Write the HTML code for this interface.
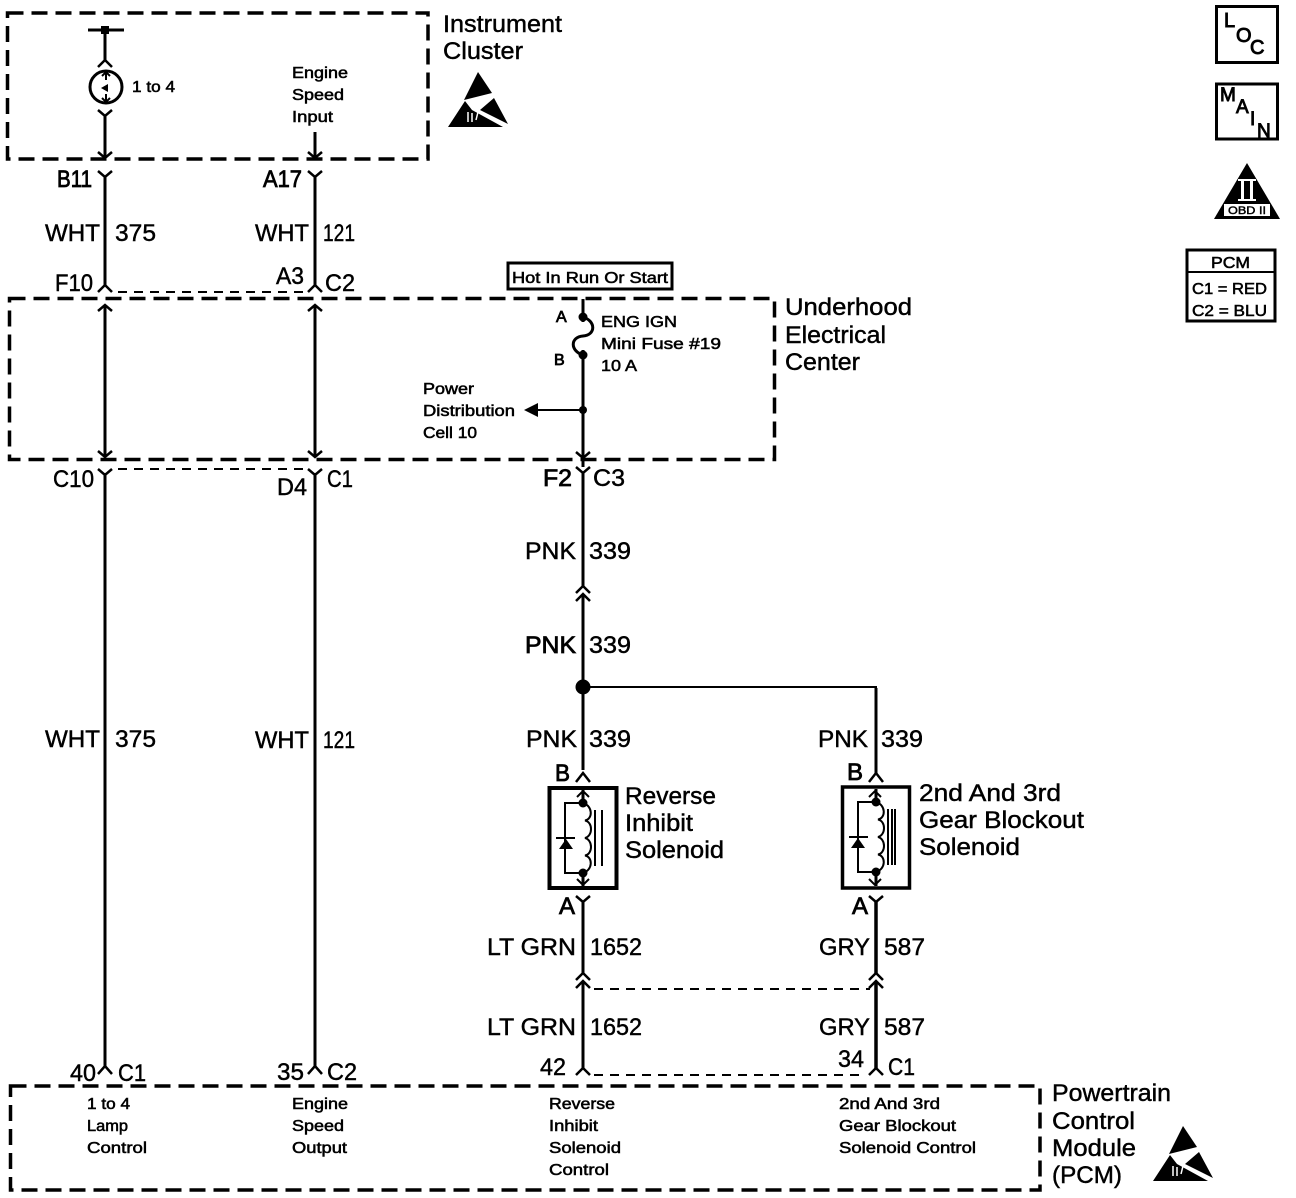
<!DOCTYPE html>
<html><head><meta charset="utf-8"><style>
html,body{margin:0;padding:0;background:#fff}
svg{display:block}
text{font-family:"Liberation Sans",sans-serif;fill:#000;stroke:#000;stroke-width:.45}
.b{font-size:24px}
.s{font-size:16px;stroke-width:.55}
.l{font-size:20px;stroke-width:.9}
.w{fill:none;stroke:#000;stroke-width:3}
.t{fill:none;stroke:#000;stroke-width:2}
.d{fill:none;stroke:#000;stroke-width:3.5;stroke-dasharray:16 8}
.n{fill:none;stroke:#000;stroke-width:2;stroke-dasharray:9 7}
</style></head><body>
<svg xmlns="http://www.w3.org/2000/svg" width="1296" height="1198" viewBox="0 0 1296 1198">
<rect width="1296" height="1198" fill="#fff"/>

<!-- dashed boxes -->
<rect class="d" x="7.5" y="13" width="420.5" height="146"/>
<rect class="d" x="9.5" y="298.5" width="765" height="161"/>
<rect class="d" x="10.5" y="1086" width="1029.5" height="104"/>

<!-- thin dashed shields -->
<path class="n" d="M118 292H305M118 469H306M594 989H870M594 1075H866"/>

<!-- wires -->
<path class="w" d="M105 30V60M105 115V158M105 177V285M105 305V457M105 473V1066"/>
<path class="w" d="M88 30H124"/>
<rect x="101" y="26" width="8" height="8" fill="#000"/>
<path class="w" d="M315 132V159M315 177V285M315 305V457M315 473V1066"/>
<path class="w" d="M583 299V467M583 473V586M583 594V770M583 902V973M583 982V1068"/>
<path class="w" d="M876 688V773"/>
<path class="w" d="M876 902V973M876 982V1068" style="stroke-width:3.5"/>
<path class="t" d="M583 687H877"/>
<path class="t" d="M583 410H534"/>
<polygon points="524,410 538,403 538,417" fill="#000"/>

<!-- Y connectors -->
<path class="w" style="stroke-width:2.5" d="M98 171L105 177L112 171M308 171L315 177L322 171M98 469L105 475L112 469M308 469L315 475L322 469M576 467L583 473L590 467"/>
<path class="w" style="stroke-width:2.5" d="M98 110L105 116L112 110M576 896L583 902L590 896M869 896L876 902L883 896"/>
<!-- lambda connectors -->
<path class="w" style="stroke-width:2.5" d="M98 292L105 285L112 292M308 292L315 285L322 292M98 1074L105 1066L112 1074M308 1074L315 1066L322 1074M576 1075L583 1068L590 1075M869 1075L876 1068L883 1075"/>
<path class="w" style="stroke-width:2.5" d="M98 67L105 60L112 67M576 782L583 773L590 782M869 782L876 773L883 782"/>
<!-- double chevrons -->
<path class="w" style="stroke-width:2.5" d="M576 593L583 586L590 593M576 601L583 594L590 601M576 980L583 973L590 980M576 988L583 981L590 988M869 980L876 973L883 980M869 988L876 981L883 988"/>
<!-- inside arrows -->
<path class="w" style="stroke-width:2.5" d="M98 152L105 158L112 152M308 152L315 158L322 152M98 451L105 457L112 451M308 451L315 457L322 451M576 452L583 458L590 452M98 311L105 305L112 311M308 311L315 305L322 311"/>

<!-- bulb -->
<circle class="w" cx="106" cy="87" r="16"/>
<path class="t" d="M106 73V80M106 94V101M102 76L106 72L110 76M102 98L106 102L110 98"/>
<path d="M101 88L108 84V92Z" fill="#000"/>

<!-- fuse -->
<circle cx="583" cy="317" r="4.5" fill="#000"/>
<circle cx="583" cy="355" r="4.5" fill="#000"/>
<circle cx="583" cy="410" r="4" fill="#000"/>
<path fill="none" stroke="#fff" stroke-width="4" d="M583 322V350"/>
<path class="w" d="M583 317C596 321 596 335 583 336C570 337 570 351 583 355"/>

<!-- junction -->
<circle cx="583" cy="687" r="7.5" fill="#000"/>

<!-- Hot box -->
<rect x="508" y="263" width="164" height="26" fill="#fff" stroke="#000" stroke-width="3"/>

<!-- Solenoid 1 -->
<rect x="549.5" y="788" width="67" height="100" fill="#fff" stroke="#000" stroke-width="4"/>
<path class="w" d="M583 790V803M583 873V886"/>
<path class="t" d="M577 797L583 791L589 797M577 879L583 885L589 879"/>
<circle cx="583" cy="803" r="4.5" fill="#000"/>
<circle cx="583" cy="873" r="4.5" fill="#000"/>
<path class="t" d="M583 803H565V873H583"/>
<path class="t" d="M556 838H575"/>
<polygon points="566,839 559,849 573,849" fill="#000"/>
<path class="t" d="M583 803C593 806 593 819 585 820.500C593 822 593 836 585 838C593 840 593 854 585 855.500C593 857 593 870 583 873"/>
<path class="t" d="M595 810V866M602 810V866"/>

<!-- Solenoid 2 -->
<rect x="842.5" y="787" width="67" height="101" fill="#fff" stroke="#000" stroke-width="3.5"/>
<path class="w" d="M876 789V802M876 872V886"/>
<path class="t" d="M869 797L875 791L881 797M869 879L875 885L881 879"/>
<circle cx="876" cy="802" r="4.5" fill="#000"/>
<circle cx="876" cy="872" r="4.5" fill="#000"/>
<path class="t" d="M876 802H858V872H876"/>
<path class="t" d="M849 837H868"/>
<polygon points="858,838 851,848 865,848" fill="#000"/>
<path class="t" d="M876 802C886 805 886 818 878 819.500C886 821 886 835 878 837C886 839 886 853 878 854.500C886 856 886 869 876 872"/>
<path class="t" d="M888 809V865M892 809V865M895 809V865"/>

<!-- ESD icons -->
<g fill="#000">
<polygon points="478,72 492,93 464,100"/>
<polygon points="448,127 465,101 472,110 503,127"/>
<polygon points="494,98 508,124 480,110"/>
<path d="M468 122V112M472 122V113M476 120L478 112" stroke="#fff" stroke-width="1.5"/>
</g>
<g fill="#000" transform="translate(705 1054)">
<polygon points="478,72 492,93 464,100"/>
<polygon points="448,127 465,101 472,110 503,127"/>
<polygon points="494,98 508,124 480,110"/>
<path d="M468 122V112M472 122V113M476 120L478 112" stroke="#fff" stroke-width="1.5"/>
</g>

<!-- Right side boxes -->
<rect x="1216.5" y="6.5" width="61" height="56" fill="#fff" stroke="#000" stroke-width="3"/>
<text class="l" x="1224" y="27">L</text><text class="l" x="1236" y="42">O</text><text class="l" x="1250" y="54">C</text>
<rect x="1216.5" y="84" width="61" height="55" fill="#fff" stroke="#000" stroke-width="3"/>
<text class="s" style="font-size:19px;stroke-width:.9" x="1220" y="101">M</text><text class="s" style="font-size:19px;stroke-width:.9" x="1236" y="113">A</text><text class="s" style="font-size:19px;stroke-width:.9" x="1250" y="125">I</text><text class="s" style="font-size:19px;stroke-width:.9" x="1257" y="137">N</text>
<polygon points="1247,163 1280,219 1214,219" fill="#000"/>
<rect x="1224" y="204" width="46" height="12" fill="#fff"/>
<text x="1228" y="214" style="font-size:11px" textLength="38" lengthAdjust="spacingAndGlyphs">OBD II</text>
<rect x="1241" y="181" width="3" height="18" fill="#fff"/><rect x="1250" y="181" width="3" height="18" fill="#fff"/>
<rect x="1238" y="179" width="18" height="2" fill="#fff"/><rect x="1238" y="199" width="18" height="2" fill="#fff"/>
<rect x="1187" y="250" width="88" height="71" fill="#fff" stroke="#000" stroke-width="3"/>
<path class="t" d="M1187 272H1275"/>
<text class="s" x="1211" y="268" textLength="39" lengthAdjust="spacingAndGlyphs">PCM</text>
<text class="s" x="1192" y="294" textLength="75" lengthAdjust="spacingAndGlyphs">C1 = RED</text>
<text class="s" x="1192" y="316" textLength="75" lengthAdjust="spacingAndGlyphs">C2 = BLU</text>

<!-- Titles -->
<text class="b" x="443" y="32" textLength="119" lengthAdjust="spacingAndGlyphs">Instrument</text>
<text class="b" x="443" y="59" textLength="80" lengthAdjust="spacingAndGlyphs">Cluster</text>
<text class="b" x="785" y="315" textLength="127" lengthAdjust="spacingAndGlyphs">Underhood</text>
<text class="b" x="785" y="343" textLength="101" lengthAdjust="spacingAndGlyphs">Electrical</text>
<text class="b" x="785" y="370" textLength="75" lengthAdjust="spacingAndGlyphs">Center</text>
<text class="b" x="1052" y="1101" textLength="119" lengthAdjust="spacingAndGlyphs">Powertrain</text>
<text class="b" x="1052" y="1129" textLength="83" lengthAdjust="spacingAndGlyphs">Control</text>
<text class="b" x="1052" y="1156" textLength="84" lengthAdjust="spacingAndGlyphs">Module</text>
<text class="b" x="1052" y="1183" textLength="70" lengthAdjust="spacingAndGlyphs">(PCM)</text>
<text class="b" x="625" y="804" textLength="91" lengthAdjust="spacingAndGlyphs">Reverse</text>
<text class="b" x="625" y="831" textLength="68" lengthAdjust="spacingAndGlyphs">Inhibit</text>
<text class="b" x="625" y="858" textLength="99" lengthAdjust="spacingAndGlyphs">Solenoid</text>
<text class="b" x="919" y="801" textLength="142" lengthAdjust="spacingAndGlyphs">2nd And 3rd</text>
<text class="b" x="919" y="828" textLength="165" lengthAdjust="spacingAndGlyphs">Gear Blockout</text>
<text class="b" x="919" y="855" textLength="101" lengthAdjust="spacingAndGlyphs">Solenoid</text>

<!-- Connector labels -->
<text class="b" x="57" y="187" textLength="35" lengthAdjust="spacingAndGlyphs" style="stroke-width:.8">B11</text>
<text class="b" x="263" y="187" textLength="39" lengthAdjust="spacingAndGlyphs" style="stroke-width:.8">A17</text>
<text class="b" x="55" y="291" textLength="38" lengthAdjust="spacingAndGlyphs">F10</text>
<text class="b" x="276" y="284" textLength="28" lengthAdjust="spacingAndGlyphs">A3</text>
<text class="b" x="325" y="291" textLength="30" lengthAdjust="spacingAndGlyphs">C2</text>
<text class="b" x="53" y="487" textLength="41" lengthAdjust="spacingAndGlyphs">C10</text>
<text class="b" x="277" y="495" textLength="30" lengthAdjust="spacingAndGlyphs">D4</text>
<text class="b" x="327" y="487" textLength="26" lengthAdjust="spacingAndGlyphs">C1</text>
<text class="b" x="543" y="486" textLength="29" lengthAdjust="spacingAndGlyphs" style="stroke-width:.8">F2</text>
<text class="b" x="593" y="486" textLength="32" lengthAdjust="spacingAndGlyphs">C3</text>
<text class="b" x="555" y="781" textLength="15" lengthAdjust="spacingAndGlyphs" style="stroke-width:.8">B</text>
<text class="b" x="847" y="780" textLength="16" lengthAdjust="spacingAndGlyphs" style="stroke-width:.8">B</text>
<text class="b" x="559" y="914" textLength="16" lengthAdjust="spacingAndGlyphs" style="stroke-width:.8">A</text>
<text class="b" x="852" y="914" textLength="16" lengthAdjust="spacingAndGlyphs" style="stroke-width:.8">A</text>
<text class="b" x="540" y="1075" textLength="26" lengthAdjust="spacingAndGlyphs">42</text>
<text class="b" x="838" y="1067" textLength="26" lengthAdjust="spacingAndGlyphs">34</text>
<text class="b" x="888" y="1075" textLength="27" lengthAdjust="spacingAndGlyphs">C1</text>
<text class="b" x="70" y="1081" textLength="26" lengthAdjust="spacingAndGlyphs">40</text>
<text class="b" x="118" y="1081" textLength="28" lengthAdjust="spacingAndGlyphs">C1</text>
<text class="b" x="277" y="1080" textLength="27" lengthAdjust="spacingAndGlyphs">35</text>
<text class="b" x="327" y="1080" textLength="30" lengthAdjust="spacingAndGlyphs">C2</text>

<!-- Wire labels -->
<text class="b" x="45" y="241" textLength="55" lengthAdjust="spacingAndGlyphs">WHT</text>
<text class="b" x="115" y="241" textLength="41" lengthAdjust="spacingAndGlyphs">375</text>
<text class="b" x="255" y="241" textLength="54" lengthAdjust="spacingAndGlyphs">WHT</text>
<text class="b" x="323" y="241" textLength="32" lengthAdjust="spacingAndGlyphs">121</text>
<text class="b" x="45" y="747" textLength="55" lengthAdjust="spacingAndGlyphs">WHT</text>
<text class="b" x="115" y="747" textLength="41" lengthAdjust="spacingAndGlyphs">375</text>
<text class="b" x="255" y="748" textLength="54" lengthAdjust="spacingAndGlyphs">WHT</text>
<text class="b" x="323" y="748" textLength="32" lengthAdjust="spacingAndGlyphs">121</text>
<text class="b" x="525" y="559" textLength="51" lengthAdjust="spacingAndGlyphs">PNK</text>
<text class="b" x="589" y="559" textLength="42" lengthAdjust="spacingAndGlyphs">339</text>
<text class="b" x="525" y="653" textLength="51" lengthAdjust="spacingAndGlyphs" style="stroke-width:.8">PNK</text>
<text class="b" x="589" y="653" textLength="42" lengthAdjust="spacingAndGlyphs">339</text>
<text class="b" x="526" y="747" textLength="51" lengthAdjust="spacingAndGlyphs">PNK</text>
<text class="b" x="589" y="747" textLength="42" lengthAdjust="spacingAndGlyphs">339</text>
<text class="b" x="818" y="747" textLength="50" lengthAdjust="spacingAndGlyphs">PNK</text>
<text class="b" x="881" y="747" textLength="42" lengthAdjust="spacingAndGlyphs">339</text>
<text class="b" x="487" y="955" textLength="89" lengthAdjust="spacingAndGlyphs">LT GRN</text>
<text class="b" x="590" y="955" textLength="52" lengthAdjust="spacingAndGlyphs">1652</text>
<text class="b" x="819" y="955" textLength="51" lengthAdjust="spacingAndGlyphs">GRY</text>
<text class="b" x="884" y="955" textLength="41" lengthAdjust="spacingAndGlyphs">587</text>
<text class="b" x="487" y="1035" textLength="89" lengthAdjust="spacingAndGlyphs">LT GRN</text>
<text class="b" x="590" y="1035" textLength="52" lengthAdjust="spacingAndGlyphs">1652</text>
<text class="b" x="819" y="1035" textLength="51" lengthAdjust="spacingAndGlyphs">GRY</text>
<text class="b" x="884" y="1035" textLength="41" lengthAdjust="spacingAndGlyphs">587</text>

<!-- Small labels -->
<text class="s" x="132" y="92" textLength="43" lengthAdjust="spacingAndGlyphs">1 to 4</text>
<text class="s" x="292" y="78" textLength="56" lengthAdjust="spacingAndGlyphs">Engine</text>
<text class="s" x="292" y="100" textLength="52" lengthAdjust="spacingAndGlyphs">Speed</text>
<text class="s" x="292" y="122" textLength="41" lengthAdjust="spacingAndGlyphs">Input</text>
<text class="s" x="512" y="283" textLength="156" lengthAdjust="spacingAndGlyphs">Hot In Run Or Start</text>
<text class="s" x="556" y="322" style="stroke-width:.8">A</text>
<text class="s" x="554" y="365" style="stroke-width:.8">B</text>
<text class="s" x="601" y="327" textLength="76" lengthAdjust="spacingAndGlyphs">ENG IGN</text>
<text class="s" x="601" y="349" textLength="120" lengthAdjust="spacingAndGlyphs">Mini Fuse #19</text>
<text class="s" x="601" y="371" textLength="36" lengthAdjust="spacingAndGlyphs">10 A</text>
<text class="s" x="423" y="394" textLength="51" lengthAdjust="spacingAndGlyphs">Power</text>
<text class="s" x="423" y="416" textLength="92" lengthAdjust="spacingAndGlyphs">Distribution</text>
<text class="s" x="423" y="438" textLength="54" lengthAdjust="spacingAndGlyphs">Cell 10</text>

<text class="s" x="87" y="1109" textLength="43" lengthAdjust="spacingAndGlyphs">1 to 4</text>
<text class="s" x="87" y="1131" textLength="41" lengthAdjust="spacingAndGlyphs">Lamp</text>
<text class="s" x="87" y="1153" textLength="60" lengthAdjust="spacingAndGlyphs">Control</text>
<text class="s" x="292" y="1109" textLength="56" lengthAdjust="spacingAndGlyphs">Engine</text>
<text class="s" x="292" y="1131" textLength="52" lengthAdjust="spacingAndGlyphs">Speed</text>
<text class="s" x="292" y="1153" textLength="55" lengthAdjust="spacingAndGlyphs">Output</text>
<text class="s" x="549" y="1109" textLength="66" lengthAdjust="spacingAndGlyphs">Reverse</text>
<text class="s" x="549" y="1131" textLength="49" lengthAdjust="spacingAndGlyphs">Inhibit</text>
<text class="s" x="549" y="1153" textLength="72" lengthAdjust="spacingAndGlyphs">Solenoid</text>
<text class="s" x="549" y="1175" textLength="60" lengthAdjust="spacingAndGlyphs">Control</text>
<text class="s" x="839" y="1109" textLength="101" lengthAdjust="spacingAndGlyphs">2nd And 3rd</text>
<text class="s" x="839" y="1131" textLength="117" lengthAdjust="spacingAndGlyphs">Gear Blockout</text>
<text class="s" x="839" y="1153" textLength="137" lengthAdjust="spacingAndGlyphs">Solenoid Control</text>
</svg>
</body></html>
